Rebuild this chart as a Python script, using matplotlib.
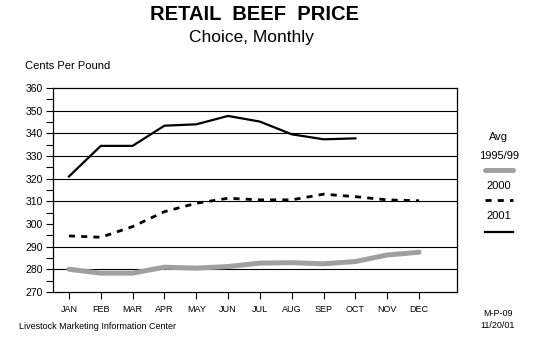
import matplotlib
matplotlib.use("Agg")
import matplotlib.pyplot as plt
from matplotlib.lines import Line2D
from matplotlib.ticker import MultipleLocator

plt.rcParams['font.family'] = ['Liberation Sans', 'DejaVu Sans']

months = ['JAN', 'FEB', 'MAR', 'APR', 'MAY', 'JUN', 'JUL', 'AUG', 'SEP', 'OCT', 'NOV', 'DEC']
avg_9599 = [280.1, 278.4, 278.4, 281.0, 280.6, 281.3, 282.8, 283.0, 282.5, 283.5, 286.4, 287.6]
y2000 = [294.8, 294.2, 298.9, 305.5, 309.2, 311.4, 310.7, 310.7, 313.2, 312.1, 310.7, 310.3]
y2001 = [321.0, 334.5, 334.5, 343.4, 344.0, 347.7, 345.2, 339.6, 337.4, 337.8]
gridvals = [280, 290, 310, 320, 330, 340, 350]

fig = plt.figure(figsize=(5.5, 3.55), dpi=100)
ax = fig.add_axes([0.0964, 0.177, 0.735, 0.575])

x = list(range(len(months)))
ax.plot(x, avg_9599, color='#a0a0a0', lw=3.6, solid_capstyle='round')
ax.plot(x, y2000, color='black', lw=2, linestyle=(0, (2.2, 2.2)))
ax.plot(x[:len(y2001)], y2001, color='black', lw=1.6)

for g in gridvals:
    ax.axhline(g, color='black', lw=0.8, zorder=0)

ax.set_xlim(-0.5, 12.2)
ax.set_ylim(270, 360)
ax.yaxis.set_major_locator(MultipleLocator(10))
ax.yaxis.set_minor_locator(MultipleLocator(5))
ax.set_xticks(x)
ax.set_xticklabels(months)
ax.tick_params(axis='y', which='both', direction='out', length=5, width=0.8, labelsize=7.5, pad=2)
ax.tick_params(axis='x', direction='out', length=5, width=0.8, labelsize=6.5, pad=4)
for s in ax.spines.values():
    s.set_linewidth(0.9)

fig.text(0.462, 0.958, 'RETAIL  BEEF  PRICE', ha='center', va='center', fontsize=14.5, fontweight='bold')
fig.text(0.457, 0.893, 'Choice, Monthly', ha='center', va='center', fontsize=12.5)
fig.text(0.045, 0.814, 'Cents Per Pound', ha='left', va='center', fontsize=8)
fig.text(0.035, 0.08, 'Livestock Marketing Information Center', ha='left', va='center', fontsize=6.5)
fig.text(0.905, 0.118, 'M-P-09', ha='center', va='center', fontsize=6.5)
fig.text(0.905, 0.084, '11/20/01', ha='center', va='center', fontsize=6.5)

# legend at right
fig.text(0.907, 0.614, 'Avg', ha='center', va='center', fontsize=8)
fig.text(0.907, 0.561, '1995/99', ha='center', va='center', fontsize=8)
fig.add_artist(Line2D([0.882, 0.933], [0.521, 0.521], color='#a0a0a0', lw=3.6, solid_capstyle='round'))
fig.text(0.907, 0.477, '2000', ha='center', va='center', fontsize=8)
fig.add_artist(Line2D([0.882, 0.933], [0.437, 0.437], color='black', lw=2, linestyle=(0, (2.2, 2.2))))
fig.text(0.907, 0.392, '2001', ha='center', va='center', fontsize=8)
fig.add_artist(Line2D([0.882, 0.933], [0.346, 0.346], color='black', lw=1.6))

fig.savefig('out.png', dpi=100)
